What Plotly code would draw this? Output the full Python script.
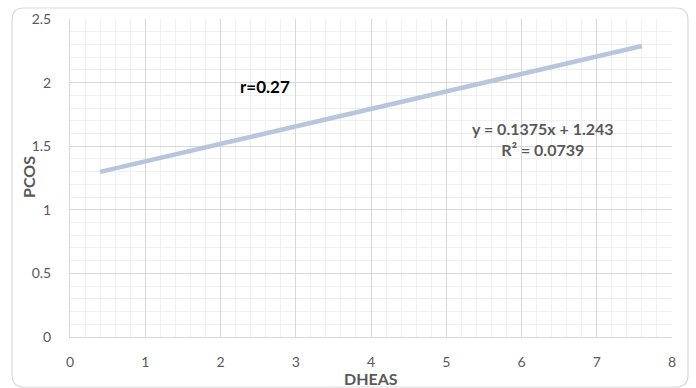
import plotly.graph_objects as go

# Trendline endpoints
trend_x = [0.4, 7.6]
trend_y = [1.298, 2.288]

x_ticks = [0, 1, 2, 3, 4, 5, 6, 7, 8]
y_ticks = [0, 0.5, 1, 1.5, 2, 2.5]
y_tick_labels = ["0", "0.5", "1", "1.5", "2", "2.5"]

x_title = "DHEAS"
y_title = "PCOS"
r_label = "r=0.27"
eq_label = "y = 0.1375x + 1.243<br>R² = 0.0739"

FONT = "Lato, 'Open Sans', sans-serif"
GREY = "#595959"

fig = go.Figure()
fig.add_trace(go.Scatter(
    x=trend_x, y=trend_y, mode="lines",
    line=dict(color="#b8c6dd", width=4.5),
    showlegend=False, hoverinfo="skip"))

fig.update_layout(
    width=696, height=388,
    margin=dict(l=70, r=24, t=19, b=51),
    paper_bgcolor="white", plot_bgcolor="white",
    font=dict(family=FONT, color=GREY, size=14),
    xaxis=dict(
        range=[0, 8], tickvals=x_ticks, ticktext=[str(v) for v in x_ticks],
        showgrid=True, gridcolor="#d9d9d9", gridwidth=1,
        minor=dict(dtick=0.2, showgrid=True, gridcolor="#f0f0f0", gridwidth=1),
        zeroline=False, showline=True, linecolor="#d9d9d9", linewidth=1,
        ticks="", ticklabelstandoff=12, automargin=False,
        tickfont=dict(size=14, color=GREY, family=FONT),
        fixedrange=True),
    yaxis=dict(
        range=[0, 2.5], tickvals=y_ticks, ticktext=y_tick_labels,
        showgrid=True, gridcolor="#d9d9d9", gridwidth=1,
        minor=dict(dtick=0.1, showgrid=True, gridcolor="#f0f0f0", gridwidth=1),
        zeroline=False, showline=True, linecolor="#d9d9d9", linewidth=1,
        ticks="", ticklabelstandoff=15, automargin=False,
        tickfont=dict(size=14, color=GREY, family=FONT),
        fixedrange=True),
)

pw, ph = 602.0, 318.0

# Axis titles as annotations (pixel-anchored in paper coords)
fig.add_annotation(x=(371 - 70) / pw, y=(337 - 378) / ph, xref="paper", yref="paper",
                   xanchor="center", yanchor="middle",
                   text="<b>" + x_title + "</b>", showarrow=False,
                   font=dict(size=16, color=GREY, family=FONT))
fig.add_annotation(x=(28 - 70) / pw, y=(337 - 177) / ph, xref="paper", yref="paper",
                   xanchor="center", yanchor="middle",
                   text="<b>" + y_title + "</b>", showarrow=False, textangle=-90,
                   font=dict(size=16, color=GREY, family=FONT))

fig.add_annotation(x=2.59, y=1.97, xref="x", yref="y", text="<b>" + r_label + "</b>",
                   showarrow=False, font=dict(size=17, color="#000000", family=FONT))
fig.add_annotation(x=6.29, y=1.556, xref="x", yref="y", text="<b>" + eq_label + "</b>",
                   showarrow=False, align="center",
                   font=dict(size=16, color=GREY, family=FONT))

# Rounded chart-area border (paper coordinates relative to plot area)
x0, x1 = (12 - 70) / pw, (688 - 70) / pw
y1, y0 = (337 - 8) / ph, (337 - 387) / ph
rx, ry = 12 / pw, 12 / ph
path = (f"M {x0+rx},{y1} L {x1-rx},{y1} Q {x1},{y1} {x1},{y1-ry} "
        f"L {x1},{y0+ry} Q {x1},{y0} {x1-rx},{y0} "
        f"L {x0+rx},{y0} Q {x0},{y0} {x0},{y0+ry} "
        f"L {x0},{y1-ry} Q {x0},{y1} {x0+rx},{y1} Z")
fig.add_shape(type="path", path=path, xref="paper", yref="paper",
              line=dict(color="#d9d9d9", width=1.2), layer="below")

fig.write_html("out.html", config={"displayModeBar": False},
               post_script="document.body.style.margin='0';document.body.style.overflow='hidden';")
